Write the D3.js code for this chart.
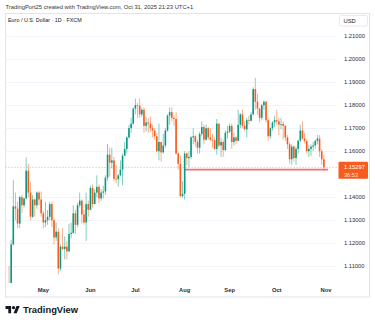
<!DOCTYPE html>
<html>
<head>
<meta charset="utf-8">
<script src="https://cdn.jsdelivr.net/npm/d3@7/dist/d3.min.js"></script>
<style>
  html, body { margin: 0; padding: 0; background: #ffffff; }
  svg { display: block; }
  text { font-family: "Liberation Sans", Arial, sans-serif; }
</style>
</head>
<body>
<svg id="chart" width="375" height="324"></svg>
<script>
// EUR/USD daily candles (FXCM), 3 Apr 2025 – 31 Oct 2025, one entry per trading day
const firstSession = "2025-04-03";
const lastSession = "2025-10-31";

const openVals = [
  1.0850, 1.1050, 1.0960, 1.0910, 1.0960, 1.0945, 1.1195, 1.1360, 1.1350, 1.1285,
  1.1400, 1.1365, 1.1395, 1.1515, 1.1420, 1.1315, 1.1390, 1.1365, 1.1420, 1.1390,
  // May
  1.1330, 1.1290, 1.1300, 1.1315, 1.1370, 1.1300, 1.1225, 1.1250, 1.1090, 1.1185,
  1.1175, 1.1185, 1.1165, 1.1240, 1.1245, 1.1330, 1.1280, 1.1365, 1.1385, 1.1325,
  1.1290, 1.1370,
  // Jun
  1.1345, 1.1440, 1.1370, 1.1420, 1.1445, 1.1395, 1.1420, 1.1425, 1.1485, 1.1585,
  1.1550, 1.1560, 1.1480, 1.1478, 1.1495, 1.1520, 1.1580, 1.1610, 1.1660, 1.1700,
  1.1720,
  // Jul
  1.1785, 1.1800, 1.1798, 1.1760, 1.1780, 1.1710, 1.1725, 1.1720, 1.1700, 1.1690,
  1.1665, 1.1600, 1.1640, 1.1595, 1.1625, 1.1690, 1.1755, 1.1770, 1.1745, 1.1740,
  1.1590, 1.1545, 1.1405,
  // Aug
  1.1415, 1.1590, 1.1570, 1.1575, 1.1660, 1.1665, 1.1640, 1.1615, 1.1675, 1.1705,
  1.1650, 1.1700, 1.1660, 1.1650, 1.1648, 1.1610, 1.1720, 1.1625, 1.1640, 1.1605,
  1.1680,
  // Sep
  1.1685, 1.1710, 1.1640, 1.1660, 1.1645, 1.1715, 1.1760, 1.1710, 1.1695, 1.1735,
  1.1732, 1.1760, 1.1870, 1.1815, 1.1785, 1.1745, 1.1800, 1.1815, 1.1735, 1.1665,
  1.1700, 1.1725,
  // Oct
  1.1735, 1.1730, 1.1715, 1.1718, 1.1710, 1.1660, 1.1630, 1.1565, 1.1620, 1.1570,
  1.1610, 1.1645, 1.1690, 1.1655, 1.1645, 1.1600, 1.1610, 1.1620, 1.1625, 1.1645,
  1.1655, 1.1600, 1.1565
];

const highVals = [
  1.1144, 1.1107, 1.1045, 1.0990, 1.1100, 1.1215, 1.1474, 1.1420, 1.1380, 1.1405,
  1.1410, 1.1395, 1.1573, 1.1545, 1.1465, 1.1410, 1.1395, 1.1425, 1.1425, 1.1425,
  1.1340, 1.1380, 1.1345, 1.1380, 1.1380, 1.1310, 1.1290, 1.1265, 1.1195, 1.1265,
  1.1230, 1.1210, 1.1285, 1.1290, 1.1365, 1.1345, 1.1375, 1.1420, 1.1390, 1.1345,
  1.1420, 1.1385,
  1.1450, 1.1455, 1.1435, 1.1495, 1.1455, 1.1435, 1.1450, 1.1495, 1.1631, 1.1615,
  1.1615, 1.1575, 1.1540, 1.1500, 1.1560, 1.1590, 1.1640, 1.1665, 1.1715, 1.1745,
  1.1790,
  1.1829, 1.1810, 1.1830, 1.1790, 1.1790, 1.1750, 1.1745, 1.1750, 1.1715, 1.1700,
  1.1680, 1.1720, 1.1640, 1.1675, 1.1700, 1.1760, 1.1790, 1.1790, 1.1755, 1.1770,
  1.1595, 1.1580, 1.1470,
  1.1600, 1.1595, 1.1600, 1.1665, 1.1700, 1.1670, 1.1650, 1.1685, 1.1730, 1.1715,
  1.1715, 1.1705, 1.1700, 1.1675, 1.1660, 1.1740, 1.1720, 1.1660, 1.1650, 1.1690,
  1.1710,
  1.1720, 1.1720, 1.1680, 1.1665, 1.1780, 1.1765, 1.1780, 1.1730, 1.1745, 1.1755,
  1.1770, 1.1878, 1.1919, 1.1850, 1.1790, 1.1805, 1.1820, 1.1820, 1.1745, 1.1705,
  1.1730, 1.1755,
  1.1780, 1.1745, 1.1745, 1.1730, 1.1715, 1.1670, 1.1640, 1.1630, 1.1625, 1.1620,
  1.1650, 1.1715, 1.1730, 1.1680, 1.1650, 1.1625, 1.1630, 1.1640, 1.1650, 1.1670,
  1.1670, 1.1610, 1.1585
];

const lowVals = [
  1.0830, 1.0940, 1.0880, 1.0890, 1.0945, 1.0945, 1.1190, 1.1300, 1.1265, 1.1265,
  1.1330, 1.1355, 1.1390, 1.1400, 1.1300, 1.1310, 1.1315, 1.1350, 1.1365, 1.1315,
  1.1265, 1.1270, 1.1280, 1.1300, 1.1270, 1.1195, 1.1210, 1.1065, 1.1080, 1.1170,
  1.1130, 1.1130, 1.1160, 1.1220, 1.1240, 1.1240, 1.1270, 1.1355, 1.1285, 1.1280,
  1.1210, 1.1315,
  1.1345, 1.1355, 1.1370, 1.1400, 1.1375, 1.1385, 1.1395, 1.1410, 1.1470, 1.1490,
  1.1525, 1.1470, 1.1460, 1.1445, 1.1490, 1.1452, 1.1580, 1.1590, 1.1655, 1.1680,
  1.1715,
  1.1760, 1.1745, 1.1745, 1.1750, 1.1680, 1.1685, 1.1680, 1.1685, 1.1660, 1.1650,
  1.1595, 1.1560, 1.1555, 1.1590, 1.1615, 1.1685, 1.1715, 1.1730, 1.1710, 1.1585,
  1.1520, 1.1400, 1.1400,
  1.1390, 1.1540, 1.1530, 1.1565, 1.1630, 1.1620, 1.1590, 1.1590, 1.1665, 1.1630,
  1.1645, 1.1650, 1.1645, 1.1615, 1.1605, 1.1585, 1.1615, 1.1575, 1.1575, 1.1600,
  1.1655,
  1.1680, 1.1610, 1.1625, 1.1630, 1.1645, 1.1700, 1.1700, 1.1690, 1.1660, 1.1715,
  1.1730, 1.1755, 1.1780, 1.1760, 1.1725, 1.1735, 1.1780, 1.1725, 1.1645, 1.1655,
  1.1690, 1.1705,
  1.1715, 1.1670, 1.1695, 1.1650, 1.1645, 1.1610, 1.1545, 1.1540, 1.1555, 1.1540,
  1.1590, 1.1640, 1.1650, 1.1635, 1.1590, 1.1575, 1.1580, 1.1600, 1.1610, 1.1630,
  1.1575, 1.1540, 1.1515
];

const closeVals = [
  1.1050, 1.0960, 1.0910, 1.0960, 1.0945, 1.1195, 1.1360, 1.1350, 1.1285, 1.1400,
  1.1365, 1.1395, 1.1515, 1.1420, 1.1315, 1.1390, 1.1365, 1.1420, 1.1390, 1.1330,
  1.1290, 1.1300, 1.1315, 1.1370, 1.1300, 1.1225, 1.1250, 1.1090, 1.1185, 1.1175,
  1.1185, 1.1165, 1.1240, 1.1245, 1.1330, 1.1280, 1.1365, 1.1385, 1.1325, 1.1290,
  1.1370, 1.1345,
  1.1440, 1.1370, 1.1420, 1.1445, 1.1395, 1.1420, 1.1425, 1.1485, 1.1585, 1.1550,
  1.1560, 1.1480, 1.1478, 1.1495, 1.1520, 1.1580, 1.1610, 1.1660, 1.1700, 1.1720,
  1.1785,
  1.1800, 1.1798, 1.1760, 1.1780, 1.1710, 1.1725, 1.1720, 1.1700, 1.1690, 1.1665,
  1.1600, 1.1640, 1.1595, 1.1625, 1.1690, 1.1755, 1.1770, 1.1745, 1.1740, 1.1590,
  1.1545, 1.1405, 1.1415,
  1.1590, 1.1570, 1.1575, 1.1660, 1.1665, 1.1640, 1.1615, 1.1675, 1.1705, 1.1650,
  1.1700, 1.1660, 1.1650, 1.1648, 1.1610, 1.1720, 1.1625, 1.1640, 1.1605, 1.1680,
  1.1685,
  1.1710, 1.1640, 1.1660, 1.1645, 1.1715, 1.1760, 1.1710, 1.1695, 1.1735, 1.1732,
  1.1760, 1.1870, 1.1815, 1.1785, 1.1745, 1.1800, 1.1815, 1.1735, 1.1665, 1.1700,
  1.1725, 1.1735,
  1.1730, 1.1715, 1.1718, 1.1710, 1.1660, 1.1630, 1.1565, 1.1620, 1.1570, 1.1610,
  1.1645, 1.1690, 1.1655, 1.1645, 1.1600, 1.1610, 1.1620, 1.1625, 1.1645, 1.1655,
  1.1600, 1.1565, 1.15297
];

// Price scale ticks (1.15000 is hidden behind the last-price tag)
const priceTicks = [1.21, 1.20, 1.19, 1.18, 1.17, 1.16, 1.14, 1.13, 1.12, 1.11];
const lastPrice = 1.15297;
const barCountdown = "36:53";
// Horizontal support segment drawn on the chart
const supportLevel = 1.1520;
const supportFrom = "2025-08-01";
const supportTo = "2025-11-04";

const headerText = "TradingPort25 created with TradingView.com, Oct 31, 2025 21:23 UTC+1";
const symbolTitle = "Euro / U.S. Dollar · 1D · FXCM";
const currency = "USD";

const UP = "#089981", DOWN = "#f85c1c";
const TEXT = "#131722";

const parse = d3.timeParse("%Y-%m-%d");
// Trading calendar (weekdays), extended a few sessions into the future for the axis
const calendar = d3.timeDay.range(parse(firstSession), d3.timeDay.offset(parse(supportTo), 1))
  .filter(d => d.getDay() !== 0 && d.getDay() !== 6);
const dayKey = d3.timeFormat("%Y-%m-%d");
const indexOf = s => calendar.findIndex(d => dayKey(d) === s);

const candles = openVals.map((o, i) => ({
  i, date: calendar[i], o, h: highVals[i], l: lowVals[i], c: closeVals[i]
}));

const svg = d3.select("#chart");
const plot = { left: 5.5, right: 337, top: 13.5, bottom: 283 };

// Scales
const x = d3.scaleLinear().domain([0, 152]).range([0.47, 326]);
const y = d3.scaleLinear().domain([1.11, 1.20]).range([266.2, 59.2]);

// Frame
svg.append("rect").attr("x", 0).attr("y", 0).attr("width", 375).attr("height", 324).attr("fill", "#fff");
svg.append("text").attr("x", 5.5).attr("y", 8.5).attr("font-size", 5.8).attr("fill", "#333")
  .text(headerText);
svg.append("rect").attr("x", 5.5).attr("y", 13.5).attr("width", 364).attr("height", 283.5)
  .attr("fill", "none").attr("stroke", "#e0e3eb").attr("stroke-width", 1);

svg.append("defs").append("clipPath").attr("id", "plotClip")
  .append("rect").attr("x", plot.left).attr("y", plot.top)
  .attr("width", plot.right - plot.left).attr("height", plot.bottom - plot.top);

// Grid
svg.append("g").selectAll("line").data(priceTicks).join("line")
  .attr("x1", plot.left).attr("x2", plot.right)
  .attr("y1", d => Math.round(y(d)) + 0.5).attr("y2", d => Math.round(y(d)) + 0.5)
  .attr("stroke", "#f0f3fa").attr("stroke-width", 1);

const g = svg.append("g").attr("clip-path", "url(#plotClip)");

// Last price dotted line
g.append("line").attr("x1", plot.left).attr("x2", plot.right)
  .attr("y1", y(lastPrice)).attr("y2", y(lastPrice))
  .attr("stroke", DOWN).attr("stroke-opacity", 0.55).attr("stroke-width", 0.8)
  .attr("stroke-dasharray", "1.2,1.8");

// Support segment
g.append("line")
  .attr("x1", x(indexOf(supportFrom))).attr("x2", x(indexOf(supportTo)))
  .attr("y1", y(supportLevel)).attr("y2", y(supportLevel))
  .attr("stroke", "#f0707c").attr("stroke-width", 1.6);

// Candles
const bodyW = 1.6;
const cg = g.append("g");
cg.selectAll("rect.wick").data(candles).join("rect").attr("class", "wick")
  .attr("x", d => x(d.i) - 0.45).attr("width", 0.9)
  .attr("y", d => y(d.h)).attr("height", d => y(d.l) - y(d.h))
  .attr("fill", d => d.c >= d.o ? UP : DOWN).attr("fill-opacity", 0.55);
cg.selectAll("rect.body").data(candles).join("rect").attr("class", "body")
  .attr("x", d => x(d.i) - bodyW / 2).attr("width", bodyW)
  .attr("y", d => y(Math.max(d.o, d.c)))
  .attr("height", d => Math.max(0.7, Math.abs(y(d.o) - y(d.c))))
  .attr("fill", d => d.c >= d.o ? UP : DOWN);

// Price scale
svg.append("g").selectAll("text").data(priceTicks).join("text")
  .attr("x", 344).attr("y", d => y(d) + 2.1)
  .attr("font-size", 5.8).attr("fill", "#2a2e39")
  .text(d => d3.format(".5f")(d));

// Currency box
svg.append("rect").attr("x", 339.5).attr("y", 15.5).attr("width", 28).attr("height", 10.5)
  .attr("rx", 1.5).attr("fill", "#fff").attr("stroke", "#e0e3eb").attr("stroke-width", 0.8);
svg.append("text").attr("x", 343.5).attr("y", 22.8).attr("font-size", 5.8).attr("fill", TEXT)
  .text(currency);

// Symbol title
svg.append("text").attr("x", 8).attr("y", 22).attr("font-size", 5.4).attr("fill", TEXT)
  .text(symbolTitle);

// Last price tag
const tagY = y(lastPrice);
svg.append("rect").attr("x", 338.5).attr("y", tagY - 5.5).attr("width", 29.5).attr("height", 17)
  .attr("rx", 1).attr("fill", DOWN);
svg.append("text").attr("x", 344).attr("y", tagY + 2.1).attr("font-size", 5.8).attr("fill", "#fff")
  .text(d3.format(".5f")(lastPrice));
svg.append("text").attr("x", 344).attr("y", tagY + 9.2).attr("font-size", 5.6).attr("fill", "#fff")
  .attr("fill-opacity", 0.85).text(barCountdown);

// Time axis: first session of each month
const monthStarts = calendar.map((d, i) => ({ d, i }))
  .filter(({ d, i }) => i > 0 && d.getMonth() !== calendar[i - 1].getMonth());
svg.append("g").selectAll("text").data(monthStarts).join("text")
  .attr("x", m => x(m.i)).attr("y", 292)
  .attr("text-anchor", "middle").attr("font-size", 5.8).attr("font-weight", 600)
  .attr("fill", "#2a2e39")
  .text(m => d3.timeFormat("%b")(m.d));

// TradingView logo
const logo = svg.append("g").attr("transform", "translate(5.5,304.5) scale(0.4)");
logo.append("path").attr("d", "M14 22H7V11H0V4h14v18z").attr("fill", TEXT);
logo.append("circle").attr("cx", 20).attr("cy", 8).attr("r", 4).attr("fill", TEXT);
logo.append("path").attr("d", "M28 22h-8l7.5-18h8L28 22z").attr("fill", TEXT);
svg.append("text").attr("x", 23).attr("y", 313).attr("font-size", 9.4)
  .attr("font-weight", 600).attr("fill", TEXT).text("TradingView");
</script>
</body>
</html>
